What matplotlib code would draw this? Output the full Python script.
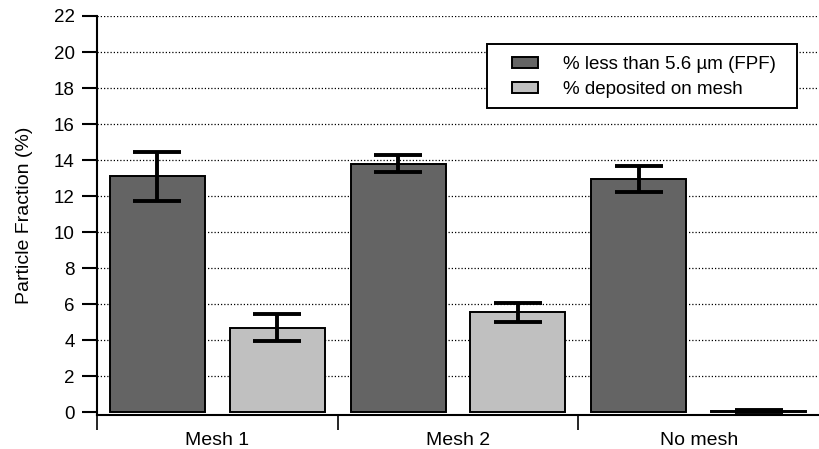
import numpy as np
import matplotlib
matplotlib.use("Agg")
import matplotlib.pyplot as plt
from matplotlib.patches import Rectangle

plt.rcParams['font.family'] = ['Liberation Sans', 'DejaVu Sans']

categories = ['Mesh 1', 'Mesh 2', 'No mesh']
fpf = [13.1, 13.8, 12.95]
fpf_err = [1.35, 0.47, 0.72]
mesh_dep = [4.7, 5.55, 0.05]
mesh_err = [0.75, 0.53, 0.05]
series_labels = ['% less than 5.6 \u00b5m (FPF)', '% deposited on mesh']

W, H = 819, 449
fig = plt.figure(figsize=(W / 100, H / 100), dpi=100)
ax = fig.add_axes([97 / W, 1 - 415 / H, 1 - 97 / W, (415 - 16) / H])

x = np.arange(len(categories))
w = 0.395
off = 0.249
err_kw = dict(ecolor='black', elinewidth=2.8, capsize=17.5, capthick=2.8)
ax.bar(x - off, fpf, w, yerr=fpf_err, color='#646464', edgecolor='black',
       linewidth=1.4, error_kw=err_kw, label=series_labels[0], zorder=3)
ax.bar(x + off, mesh_dep, w, yerr=mesh_err, color='#c0c0c0', edgecolor='black',
       linewidth=1.4, error_kw=err_kw, label=series_labels[1], zorder=3)

ax.set_xlim(-0.5, len(categories) - 0.5)
ax.set_ylim(-0.15, 22)
ax.set_yticks(np.arange(0, 23, 2))
for yv in np.arange(2, 23, 2):
    ax.axhline(yv, color='black', linestyle=(0, (1, 1.6)), linewidth=0.9, zorder=1)

# category separators as major ticks, labels at the centres
ax.set_xticks(np.arange(len(categories)) - 0.5)
ax.set_xticklabels([])
ax.set_xticks(x, minor=True)
ax.set_xticklabels(categories, minor=True)
ax.tick_params(axis='x', which='major', direction='out', length=11, width=1.2)
ax.tick_params(axis='x', which='minor', length=0, labelsize=14, pad=12)
ax.tick_params(axis='y', direction='out', length=11, width=1.5, labelsize=13.5, pad=5)

for s in ['top', 'right']:
    ax.spines[s].set_visible(False)
ax.spines['left'].set_linewidth(1.5)
ax.spines['bottom'].set_linewidth(1.5)

ax.set_ylabel('Particle Fraction (%)', fontsize=14, labelpad=15)

# legend box drawn separately so the handles can sit further in
frame = Rectangle((487 / W, 1 - 108 / H), 310 / W, 64 / H, transform=fig.transFigure,
                  facecolor='white', edgecolor='black', linewidth=1.4, zorder=4)
ax.add_patch(frame)
frame.set_clip_on(False)
leg = ax.legend(loc='upper left', bbox_to_anchor=(512 / W, 1 - 56 / H),
                bbox_transform=fig.transFigure, frameon=False,
                fontsize=13.5, handlelength=1.4, handleheight=0.55, handletextpad=1.3,
                borderpad=0, labelspacing=0.42, borderaxespad=0)
leg.set_zorder(5)

fig.savefig('out.png', dpi=100)
